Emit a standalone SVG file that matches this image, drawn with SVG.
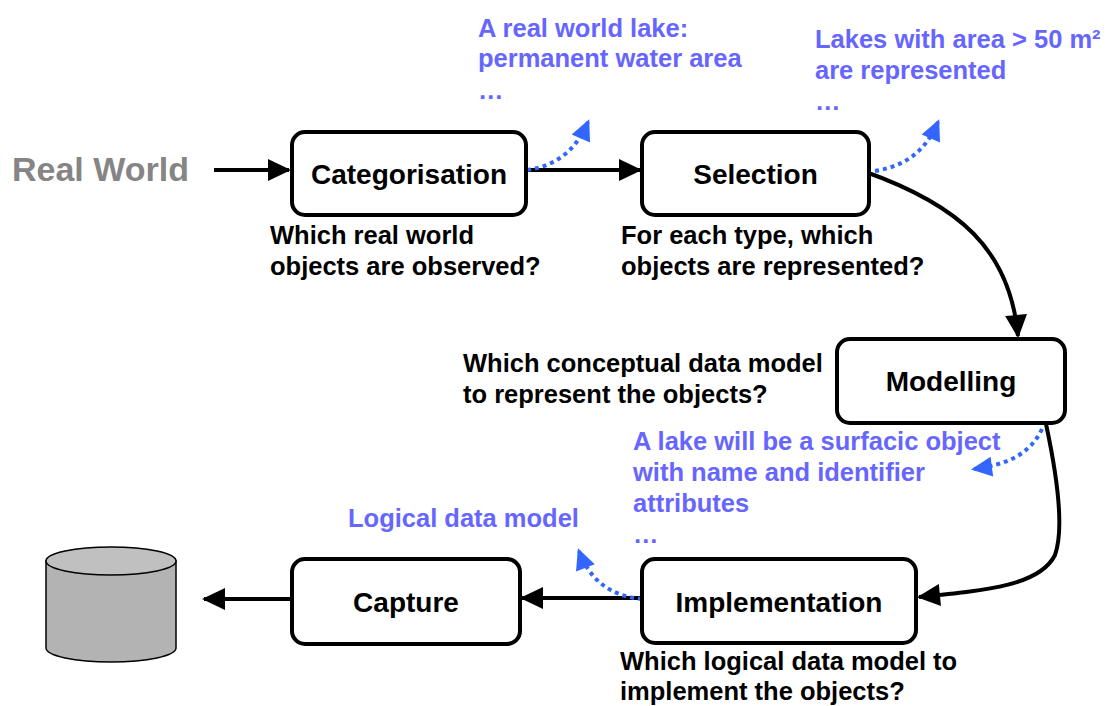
<svg xmlns="http://www.w3.org/2000/svg" width="1107" height="706" viewBox="0 0 1107 706">
<style>
.box{fill:#fff;stroke:#000;stroke-width:4}
.lbl{font-family:"Liberation Sans",Arial,sans-serif;font-weight:bold;font-size:28px;fill:#000;text-anchor:middle}
.q{font-family:"Liberation Sans",Arial,sans-serif;font-weight:bold;font-size:25.5px;fill:#000}
.b{font-family:"Liberation Sans",Arial,sans-serif;font-weight:bold;font-size:25.5px;fill:#6666ff}
.conn{fill:none;stroke:#000;stroke-width:4}
.dot{fill:none;stroke:#3366ff;stroke-width:4;stroke-dasharray:4 4}
</style>
<defs>
<marker id="ah" markerUnits="userSpaceOnUse" markerWidth="24" markerHeight="24" refX="21" refY="11" orient="auto" overflow="visible">
<path d="M0,0 L23,11 L0,22 z" fill="#000"/>
</marker>
<marker id="bh" markerUnits="userSpaceOnUse" markerWidth="22" markerHeight="22" refX="18" refY="10" orient="auto" overflow="visible">
<path d="M0,0 L21,10 L0,20 z" fill="#3366ff"/>
</marker>
</defs>
<rect width="1107" height="706" fill="#fff"/>
<text x="12" y="181" font-family="Liberation Sans, Arial, sans-serif" font-weight="bold" font-size="34" fill="#858585">Real World</text>
<g id="connectors">
<path class="conn" d="M214,170 L289,170" marker-end="url(#ah)"/>
<path class="conn" d="M527,170 L640,170" marker-end="url(#ah)"/>
<path class="conn" d="M863,171 C960,205 1010,250 1018,336" marker-end="url(#ah)"/>
<path class="conn" d="M1046,424 C1058,480 1064,530 1055,555 C1040,585 990,590 919,597" marker-end="url(#ah)"/>
<path class="conn" d="M642,598 L522,598" marker-end="url(#ah)"/>
<path class="conn" d="M292,599 L204,599" marker-end="url(#ah)"/>
<path class="dot" d="M527,170 C555,166 575,152 588,122" marker-end="url(#bh)"/>
<path class="dot" d="M875,171 C905,166 925,152 938,122" marker-end="url(#bh)"/>
<path class="dot" d="M1042,429 C1030,455 1005,465 974,469" marker-end="url(#bh)"/>
<path class="dot" d="M642,599 C610,596 590,580 579,551" marker-end="url(#bh)"/>
</g>
<g id="categorisation">
<rect class="box" x="292" y="132" width="234" height="83" rx="13"/>
<text class="lbl" x="409" y="184">Categorisation</text>
</g>
<g id="selection">
<rect class="box" x="642" y="132" width="227" height="83" rx="13"/>
<text class="lbl" x="755.5" y="184">Selection</text>
</g>
<g id="modelling">
<rect class="box" x="837" y="339" width="228" height="84" rx="13"/>
<text class="lbl" x="951" y="391">Modelling</text>
</g>
<g id="implementation">
<rect class="box" x="642" y="559" width="274" height="84" rx="13"/>
<text class="lbl" x="779" y="612">Implementation</text>
</g>
<g id="capture">
<rect class="box" x="292" y="559" width="228" height="85" rx="13"/>
<text class="lbl" x="406" y="612">Capture</text>
</g>
<g id="database">
<path d="M46,561 L46,648 A65,14 0 0 0 176,648 L176,561 Z" fill="#b3b3b3" stroke="#000" stroke-width="1.5"/>
<ellipse cx="111" cy="561" rx="65" ry="14" fill="#c0c0c0" stroke="#000" stroke-width="1.5"/>
</g>
<g id="texts">
<text class="q" x="270" y="244">Which real world</text>
<text class="q" x="270" y="275">objects are observed?</text>
<text class="q" x="621" y="244">For each type, which</text>
<text class="q" x="621" y="275">objects are represented?</text>
<text class="q" x="463" y="372">Which conceptual data model</text>
<text class="q" x="463" y="403">to represent the objects?</text>
<text class="q" x="620" y="670">Which logical data model to</text>
<text class="q" x="620" y="700">implement the objects?</text>
<text class="b" x="478" y="37">A real world lake:</text>
<text class="b" x="478" y="67">permanent water area</text>
<text class="b" x="478" y="99">…</text>
<text class="b" x="815" y="48">Lakes with area &gt; 50 m²</text>
<text class="b" x="815" y="79">are represented</text>
<text class="b" x="815" y="110">…</text>
<text class="b" x="633" y="450">A lake will be a surfacic object</text>
<text class="b" x="633" y="481">with name and identifier</text>
<text class="b" x="633" y="512">attributes</text>
<text class="b" x="633" y="543">…</text>
<text class="b" x="348" y="527">Logical data model</text>
</g>
</svg>
